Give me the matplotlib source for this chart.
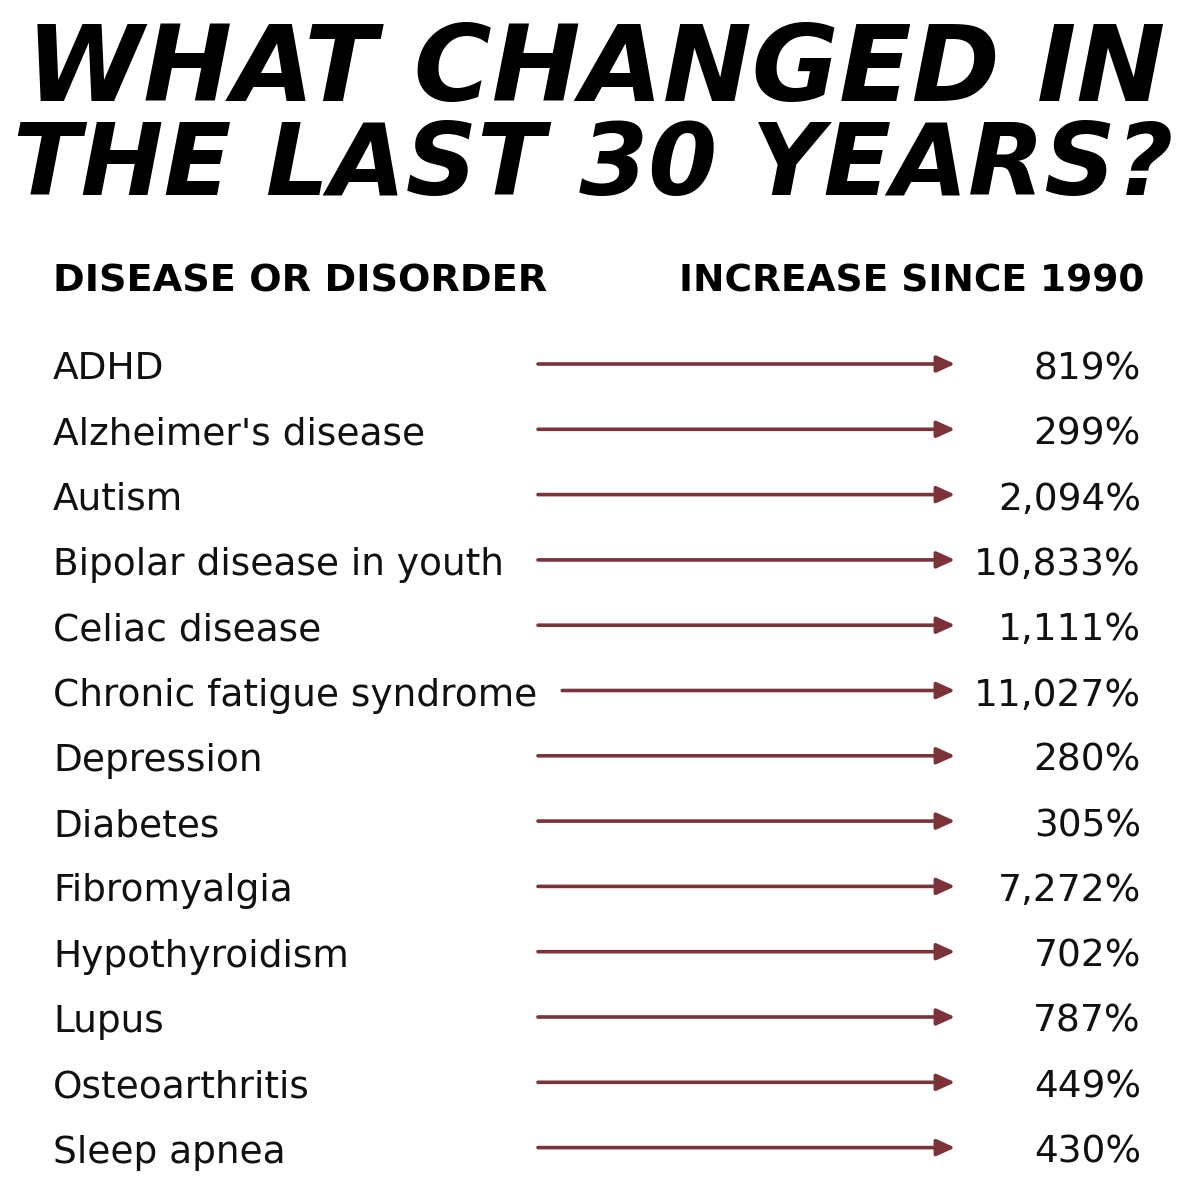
import matplotlib.pyplot as plt
from matplotlib.patches import FancyArrowPatch

# data read from the infographic
title_lines = ["WHAT CHANGED IN", "THE LAST 30 YEARS?"]
col_headers = ["DISEASE OR DISORDER", "INCREASE SINCE 1990"]
conditions = [
    "ADHD", "Alzheimer's disease", "Autism", "Bipolar disease in youth",
    "Celiac disease", "Chronic fatigue syndrome", "Depression", "Diabetes",
    "Fibromyalgia", "Hypothyroidism", "Lupus", "Osteoarthritis", "Sleep apnea",
]
increase_pct = [819, 299, 2094, 10833, 1111, 11027, 280, 305, 7272, 702, 787, 449, 430]

W, H = 1199, 1200
fig = plt.figure(figsize=(W / 100, H / 100), dpi=100)
ax = fig.add_axes([0, 0, 1, 1])
ax.set_xlim(0, W)
ax.set_ylim(H, 0)
ax.axis("off")

arrow_col = "#7b3238"
label_font = "DejaVu Sans"
renderer = fig.canvas.get_renderer()


def fit_width(t, target_px):
    # rescale a text so its rendered width matches target_px
    w = t.get_window_extent(renderer).width
    t.set_fontsize(t.get_fontsize() * target_px / w)


# title
t1 = ax.text(596, 72, title_lines[0], ha="center", va="center", fontsize=70,
             family="DejaVu Sans", weight="bold", style="oblique", color="black")
t2 = ax.text(593, 167, title_lines[1], ha="center", va="center", fontsize=70,
             family="DejaVu Sans", weight="bold", style="oblique", color="black")
fit_width(t1, 1140)
fit_width(t2, 1160)

# column headers
h1 = ax.text(53, 281, col_headers[0], ha="left", va="center", fontsize=24,
             family="DejaVu Sans", weight="bold")
h2 = ax.text(1144, 281, col_headers[1], ha="right", va="center", fontsize=24,
             family="DejaVu Sans", weight="bold")
fit_width(h1, 496)
fit_width(h2, 467)

row0, step = 369, 65.3
inv = ax.transData.inverted()
for i, (name, val) in enumerate(zip(conditions, increase_pct)):
    y = row0 + i * step
    t = ax.text(53, y, name, ha="left", va="center", fontsize=27,
                family=label_font, color="#111111")
    ax.text(1141, y, f"{val:,}%", ha="right", va="center", fontsize=27,
            family=label_font, color="#111111")
    bb = t.get_window_extent(renderer)
    x_end_text = inv.transform((bb.x1, bb.y0))[0]
    x0 = max(538, x_end_text + 25)
    ax.add_patch(FancyArrowPatch((x0, y - 5), (955, y - 5),
                                 arrowstyle="-|>,head_length=11,head_width=5",
                                 color=arrow_col, lw=2.6, shrinkA=0, shrinkB=0))

fig.savefig("out.png", dpi=100, facecolor="white")
